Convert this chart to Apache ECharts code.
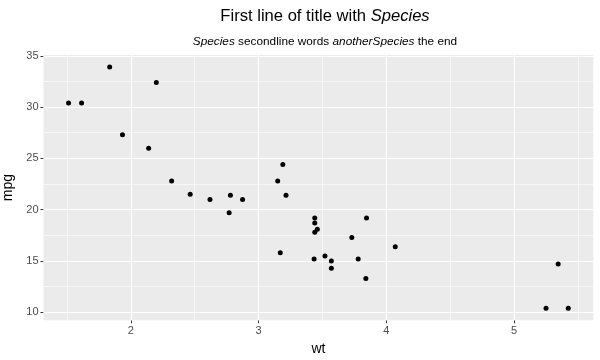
<!DOCTYPE html>
<html>
<head>
<meta charset="utf-8">
<script src="https://cdn.jsdelivr.net/npm/echarts@6/dist/echarts.min.js"></script>
<style>html,body{margin:0;padding:0;background:#fff;}#c{width:600px;height:360px;}</style>
</head>
<body>
<div id="c"></div>
<script>
const wt = [2.620, 2.875, 2.320, 3.215, 3.440, 3.460, 3.570, 3.190, 3.150, 3.440, 3.440, 4.070, 3.730, 3.780, 5.250, 5.424, 5.345, 2.200, 1.615, 1.835, 2.465, 3.520, 3.435, 3.840, 3.845, 1.935, 2.140, 1.513, 3.170, 2.770, 3.570, 2.780];
const mpg = [21.0, 21.0, 22.8, 21.4, 18.7, 18.1, 14.3, 24.4, 22.8, 19.2, 17.8, 16.4, 17.3, 15.2, 10.4, 10.4, 14.7, 32.4, 30.4, 33.9, 21.5, 15.5, 15.2, 13.3, 19.2, 27.3, 26.0, 30.4, 15.8, 19.7, 15.0, 21.4];
const xTicks = [2, 3, 4, 5];
const yTicks = [10, 15, 20, 25, 30, 35];
const xMinor = [1.5, 2.5, 3.5, 4.5, 5.5];
const yMinor = [12.5, 17.5, 22.5, 27.5, 32.5];
const xRange = [1.317, 5.620];
const yRange = [9.225, 35.075];

const chart = echarts.init(document.getElementById('c'), null, {renderer: 'canvas'});
const font = 'Liberation Sans, Arial, Helvetica, sans-serif';
const gridLines = [];
xTicks.forEach(v => gridLines.push({xAxis: v, lineStyle: {color: '#ffffff', width: 1.1, type: 'solid'}}));
yTicks.forEach(v => gridLines.push({yAxis: v, lineStyle: {color: '#ffffff', width: 1.1, type: 'solid'}}));
xMinor.forEach(v => gridLines.push({xAxis: v, lineStyle: {color: '#ffffff', width: 0.55, type: 'solid'}}));
yMinor.forEach(v => gridLines.push({yAxis: v, lineStyle: {color: '#ffffff', width: 0.55, type: 'solid'}}));

chart.setOption({
  animation: false,
  backgroundColor: '#ffffff',
  title: [{
    text: '{n|First line of title with }{i|Species}',
    left: 320, top: 3, textAlign: 'center',
    textStyle: {fontWeight: 'normal', rich: {
      n: {fontFamily: font, fontSize: 16.6, color: '#000', fontWeight: 'normal'},
      i: {fontFamily: font, fontSize: 16.6, color: '#000', fontWeight: 'normal', fontStyle: 'italic'}
    }}
  }, {
    text: '{i|Species}{n| secondline words }{i|anotherSpecies}{n| the end}',
    left: 320, top: 31, textAlign: 'center',
    textStyle: {fontWeight: 'normal', rich: {
      n: {fontFamily: font, fontSize: 11.8, color: '#000', fontWeight: 'normal'},
      i: {fontFamily: font, fontSize: 11.8, color: '#000', fontWeight: 'normal', fontStyle: 'italic'}
    }}
  }],
  grid: {left: 43.5, right: 6.7, top: 55, bottom: 39.7, show: true, backgroundColor: '#EBEBEB', borderWidth: 0, containLabel: false, outerBoundsMode: 'none'},
  xAxis: {
    type: 'value', min: xRange[0], max: xRange[1],
    name: 'wt', nameLocation: 'middle', nameGap: 22,
    nameTextStyle: {fontFamily: font, fontSize: 14, color: '#000'},
    axisLine: {show: false},
    axisTick: {show: true, length: 3, lineStyle: {color: '#333', width: 1}, customValues: xTicks},
    axisLabel: {fontFamily: font, fontSize: 11, color: '#4D4D4D', margin: 5, customValues: xTicks},
    splitLine: {show: false}
  },
  yAxis: {
    type: 'value', min: yRange[0], max: yRange[1],
    name: 'mpg', nameLocation: 'middle', nameGap: 28, nameRotate: 90,
    nameTextStyle: {fontFamily: font, fontSize: 14, color: '#000'},
    axisLine: {show: false},
    axisTick: {show: true, length: 3, lineStyle: {color: '#333', width: 1}, customValues: yTicks},
    axisLabel: {fontFamily: font, fontSize: 11, color: '#4D4D4D', margin: 5, customValues: yTicks},
    splitLine: {show: false}
  },
  series: [{
    type: 'scatter', data: [], z: 1, silent: true,
    markLine: {silent: true, z: 1, symbol: ['none', 'none'], label: {show: false}, animation: false, data: gridLines}
  }, {
    type: 'scatter', z: 10, symbolSize: 5,
    itemStyle: {color: '#000', opacity: 1},
    data: wt.map((w, i) => [w, mpg[i]])
  }]
});
</script>
</body>
</html>
